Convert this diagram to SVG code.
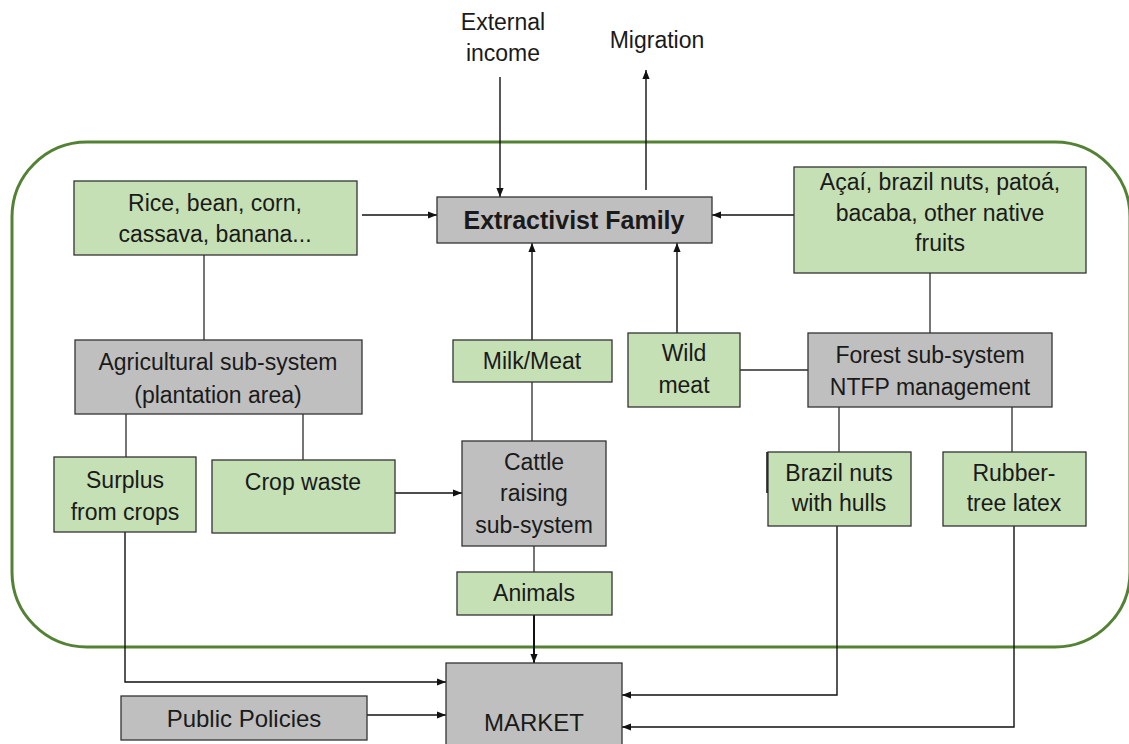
<svg xmlns="http://www.w3.org/2000/svg" width="1129" height="744" viewBox="0 0 1129 744">
<defs>
<style>
.g{fill:#c5e0b4;stroke:#333;stroke-width:1.3}
.s{fill:#bfbfbf;stroke:#333;stroke-width:1.3}
text{font-family:"Liberation Sans",Arial,sans-serif;font-size:23px;fill:#1a1a1a;text-anchor:middle}
.b{font-weight:bold;font-size:25px}
.l{fill:none;stroke:#2a2a2a;stroke-width:1.3}
.a{fill:none;stroke:#111;stroke-width:1.4;marker-end:url(#ah)}
</style>
<marker id="ah" viewBox="0 0 10 10" refX="10" refY="5" markerWidth="9" markerHeight="9" markerUnits="userSpaceOnUse" orient="auto"><path d="M0,1 L10,5 L0,9 z" fill="#111"/></marker>
</defs>
<rect width="1129" height="744" fill="#fff"/>
<rect id="container" x="12" y="142" width="1118" height="505" rx="75" ry="75" fill="none" stroke="#548235" stroke-width="3"/>
<g id="connectors">
<path class="a" d="M500,77 V197"/>
<path class="a" d="M646,190 V70"/>
<path class="a" d="M362,215 H437"/>
<path class="a" d="M794,215 H712"/>
<path class="a" d="M532,340 V243"/>
<path class="a" d="M677,333 V243"/>
<path class="l" d="M204,255 V340"/>
<path class="l" d="M930,273 V333"/>
<path class="l" d="M740,370 H808"/>
<path class="l" d="M126,414 V457"/>
<path class="l" d="M303,414 V460"/>
<path class="a" d="M395,493 H462"/>
<path class="l" d="M532,382 V441"/>
<path class="l" d="M534,546 V572"/>
<path class="a" d="M534,615 V663" style="stroke-width:2"/>
<path class="l" d="M839,407 V452"/>
<path class="l" d="M1012,407 V452"/>
<path class="a" d="M125,532 V682 H446"/>
<path class="a" d="M367,715 H446"/>
<path class="a" d="M837,526 V695 H622"/>
<path class="a" d="M1014,526 V727 H622"/>
</g>
<g id="external-income"><text x="503" y="30">External</text><text x="503" y="61">income</text></g>
<g id="migration"><text x="657" y="48">Migration</text></g>
<g id="family"><rect class="s" x="437" y="197" width="275" height="46"/><text class="b" x="574" y="229">Extractivist Family</text></g>
<g id="crops"><rect class="g" x="74" y="181" width="283" height="74"/><text x="215" y="211">Rice, bean, corn,</text><text x="215" y="242">cassava, banana...</text></g>
<g id="fruits"><rect class="g" x="794" y="167" width="292" height="106"/><text x="940" y="190">Açaí, brazil nuts, patoá,</text><text x="940" y="221">bacaba, other native</text><text x="940" y="251">fruits</text></g>
<g id="agri"><rect class="s" x="75" y="340" width="287" height="74"/><text x="218" y="370">Agricultural sub-system</text><text x="218" y="403">(plantation area)</text></g>
<g id="milk"><rect class="g" x="453" y="340" width="159" height="42"/><text x="532" y="369">Milk/Meat</text></g>
<g id="wildmeat"><rect class="g" x="628" y="333" width="112" height="74"/><text x="684" y="361">Wild</text><text x="684" y="393">meat</text></g>
<g id="forest"><rect class="s" x="808" y="333" width="244" height="74"/><text x="930" y="363">Forest sub-system</text><text x="930" y="395">NTFP management</text></g>
<g id="surplus"><rect class="g" x="54" y="457" width="142" height="75"/><text x="125" y="488">Surplus</text><text x="125" y="520">from crops</text></g>
<g id="cropwaste"><rect class="g" x="212" y="460" width="183" height="73"/><text x="303" y="490">Crop waste</text></g>
<g id="cattle"><rect class="s" x="462" y="441" width="144" height="105"/><text x="534" y="470">Cattle</text><text x="534" y="501">raising</text><text x="534" y="533">sub-system</text></g>
<g id="animals"><rect class="g" x="457" y="572" width="155" height="43"/><text x="534" y="601">Animals</text></g>
<g id="brazilnuts"><rect class="g" x="768" y="452" width="143" height="74"/><path d="M767,452 V493" stroke="#111" stroke-width="1.5"/><text x="839" y="481">Brazil nuts</text><text x="839" y="511">with hulls</text></g>
<g id="rubber"><rect class="g" x="943" y="452" width="143" height="74"/><text x="1014" y="481">Rubber-</text><text x="1014" y="511">tree latex</text></g>
<g id="policies"><rect class="s" x="121" y="696" width="246" height="44"/><text x="244" y="727" style="font-size:24px">Public Policies</text></g>
<g id="market"><rect class="s" x="446" y="663" width="176" height="90"/><text x="534" y="731" style="font-size:24px">MARKET</text></g>
</svg>
